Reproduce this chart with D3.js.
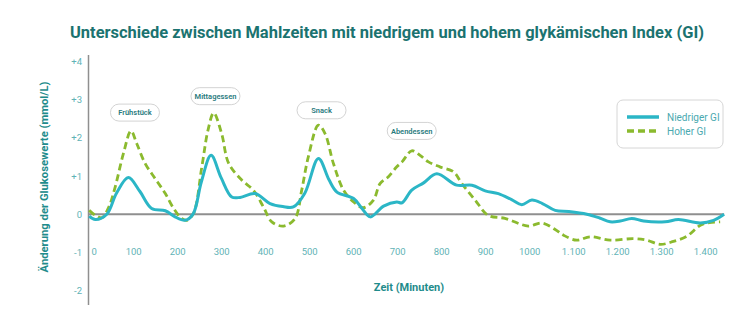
<!DOCTYPE html>
<html><head><meta charset="utf-8">
<script src="https://cdn.jsdelivr.net/npm/d3@7"></script>
<style>
html,body{margin:0;padding:0;background:#fff;}
svg{display:block;font-family:Roboto,"Noto Sans",sans-serif;}
</style></head>
<body><svg id="c" width="745" height="336"></svg>
<script>
// ---- data ----
const lowTime  = [0,14,40,62,89,115,142,173,195,218,236,255,277,300,324,343,377,411,440,464,490,521,545,563,601,620,639,669,699,711,733,760,790,835,870,900,930,960,983,1006,1030,1059,1090,1131,1160,1184,1207,1233,1260,1309,1339,1389,1419,1443];
const lowValue = [-0.05,-0.14,0.0,0.55,0.96,0.6,0.15,0.09,-0.07,-0.16,0.0,0.85,1.54,0.95,0.45,0.44,0.54,0.28,0.2,0.19,0.55,1.46,0.9,0.58,0.41,0.15,-0.07,0.21,0.32,0.3,0.63,0.82,1.06,0.76,0.76,0.61,0.54,0.38,0.25,0.37,0.28,0.1,0.07,0.0,-0.1,-0.2,-0.18,-0.11,-0.18,-0.2,-0.14,-0.23,-0.16,0.0];
const highTime  = [0,14,29,45,59,78,95,108,127,150,173,192,210,222,237,256,270,283,301,317,347,373,396,415,442,468,483,498,521,536,555,578,601,623,646,661,680,699,711,733,752,771,797,828,847,877,907,945,998,1029,1059,1078,1108,1139,1184,1237,1267,1298,1328,1358,1389,1410,1434];
const highValue = [0.1,-0.03,-0.09,0.2,0.71,1.6,2.18,1.85,1.33,0.93,0.54,0.15,-0.11,-0.16,0.02,1.24,2.2,2.65,2.11,1.33,0.89,0.63,0.19,-0.2,-0.31,-0.11,0.63,1.5,2.33,2.11,1.33,0.63,0.32,0.17,0.37,0.8,0.98,1.24,1.37,1.66,1.54,1.37,1.24,1.11,0.8,0.37,-0.03,-0.11,-0.31,-0.23,-0.4,-0.55,-0.68,-0.59,-0.68,-0.64,-0.68,-0.79,-0.71,-0.58,-0.29,-0.22,-0.2];
const xTicks = [0,100,200,300,400,500,600,700,800,900,1000,1100,1200,1300,1400];
const xTickLabels = ["0","100","200","300","400","500","600","700","800","900","1000","1.100","1.200","1.300","1.400"];
const yTicks = [-2,-1,0,1,2,3,4];
const yTickLabels = ["-2","-1","0","+1","+2","+3","+4"];
const seriesNames = ["Niedriger GI","Hoher GI"];
const mealLabels = ["Frühstück","Mittagessen","Snack","Abendessen"];
const mealTimes = [104,287,528,733];
const mealLevels = [2.66,3.09,2.72,2.18];
const titleText = "Unterschiede zwischen Mahlzeiten mit niedrigem und hohem glykämischen Index (GI)";

// ---- layout ----
const svg = d3.select("#c");
const x = d3.scaleLinear().domain([0,1400]).range([89.2,705.2]);
const y = d3.scaleLinear().domain([-2,4]).range([290.6,61.4]);
const teal = "#2bb6c6", green = "#8bba2e";
const tickCol = "#5fb3b6";

// title
svg.append("text").attr("x",387).attr("y",38).attr("text-anchor","middle")
  .attr("font-size",17).attr("font-weight",700).attr("fill","#1b7370")
  .attr("textLength",634).attr("lengthAdjust","spacingAndGlyphs").text(titleText);

// y axis
const yAx = svg.append("g").attr("transform","translate(82,0)")
  .call(d3.axisLeft(y).tickValues(yTicks).tickSize(0).tickPadding(0).tickFormat((d,i)=>yTickLabels[i]));
yAx.select(".domain").remove();
yAx.selectAll("text").attr("fill",tickCol).attr("font-size",9.5).attr("font-family","Roboto,sans-serif");

// x axis labels at y=-1 row
const xAx = svg.append("g").attr("transform",`translate(0,${y(-1)})`)
  .call(d3.axisBottom(x).tickValues(xTicks).tickSize(0).tickPadding(0).tickFormat((d,i)=>xTickLabels[i]));
xAx.select(".domain").remove();
xAx.selectAll("text").attr("fill",tickCol).attr("font-size",9.5).attr("dy","0.32em").attr("y",0)
  .attr("font-family","Roboto,sans-serif");
xAx.selectAll(".tick").filter(d=>d===0).select("text").attr("x",4.5);

// axis lines
svg.append("line").attr("x1",88.5).attr("x2",88.5).attr("y1",55).attr("y2",305)
  .attr("stroke","#8f8f8f").attr("stroke-width",1.5);
svg.append("line").attr("x1",88.5).attr("x2",x(1443)).attr("y1",y(0)).attr("y2",y(0))
  .attr("stroke","#8f8f8f").attr("stroke-width",2);

// axis titles
svg.append("text").attr("transform","translate(48,177) rotate(-90)").attr("text-anchor","middle")
  .attr("font-size",11.5).attr("font-weight",700).attr("fill","#1f8c8c")
  .attr("textLength",191).attr("lengthAdjust","spacingAndGlyphs").text("Änderung der Glukosewerte (mmol/L)");
svg.append("text").attr("x",409).attr("y",290.5).attr("text-anchor","middle")
  .attr("font-size",11).attr("font-weight",700).attr("fill","#1f8c8c").text("Zeit (Minuten)");

// lines
const line = d3.line().x(d=>x(d[0])).y(d=>y(d[1])).curve(d3.curveCatmullRom.alpha(0.5));
svg.append("path").datum(d3.zip(highTime,highValue)).attr("d",line).attr("fill","none")
  .attr("stroke",green).attr("stroke-width",2.8).attr("stroke-dasharray","7,4");
svg.append("path").datum(d3.zip(lowTime,lowValue)).attr("d",line).attr("fill","none")
  .attr("stroke",teal).attr("stroke-width",3);

// meal annotations
mealLabels.forEach((lab,i)=>{
  const cx = x(mealTimes[i]), cy = y(mealLevels[i]);
  const w = 49, h = 17;
  svg.append("rect").attr("x",cx-w/2).attr("y",cy-h/2).attr("width",w).attr("height",h)
    .attr("rx",8.5).attr("fill","#fff").attr("stroke","#c8c8c8").attr("stroke-width",0.8);
  svg.append("text").attr("x",cx).attr("y",cy).attr("dy","0.35em").attr("text-anchor","middle")
    .attr("font-size",7.5).attr("font-weight",600).attr("fill","#2a7b7e").text(lab);
});

// legend
svg.append("rect").attr("x",617).attr("y",100).attr("width",106).attr("height",48).attr("rx",6)
  .attr("fill","#fff").attr("stroke","#d6d6d6").attr("stroke-width",1);
svg.append("line").attr("x1",627).attr("x2",659).attr("y1",117).attr("y2",117)
  .attr("stroke",teal).attr("stroke-width",3.5);
svg.append("line").attr("x1",627).attr("x2",659).attr("y1",131).attr("y2",131)
  .attr("stroke",green).attr("stroke-width",3.5).attr("stroke-dasharray","7,4");
seriesNames.forEach((n,i)=>{
  svg.append("text").attr("x",667).attr("y",117+i*14).attr("dy","0.35em")
    .attr("font-size",10).attr("fill","#4aa9b0").text(n);
});
</script></body></html>
